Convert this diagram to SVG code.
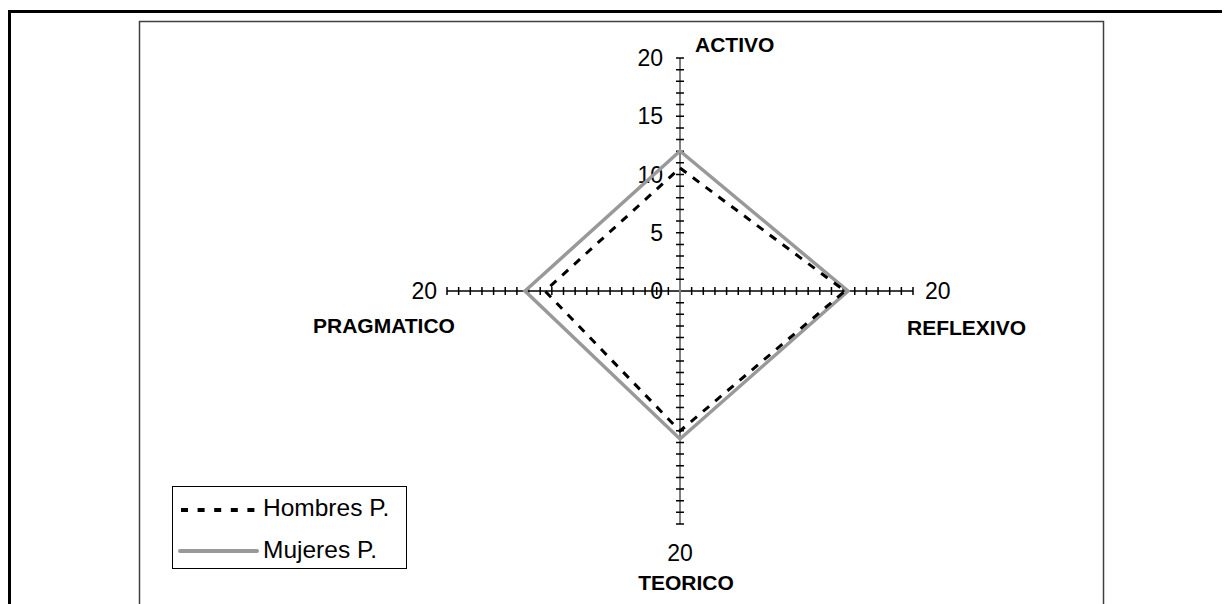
<svg xmlns="http://www.w3.org/2000/svg" width="1224" height="604" viewBox="0 0 1224 604">
<style>
.num{font-family:"Liberation Sans",Arial,sans-serif;font-size:23px;fill:#000}
.cat{font-family:"Liberation Sans",Arial,sans-serif;font-size:21px;font-weight:bold;fill:#000}
.leg{font-family:"Liberation Sans",Arial,sans-serif;font-size:24.5px;fill:#000}
.tick{stroke:#000;stroke-width:1.5}
</style>
<defs>
<path id="vt" d="M-4,0H4"/>
<path id="ht" d="M0,-4V4"/>
</defs>
<rect width="1224" height="604" fill="#fff"/>
<g id="frames" fill="none">
<path d="M9.5,604V11.5H1222" stroke="#000" stroke-width="3"/>
<path d="M139.5,604V21.5H1103.5V604" stroke="#404040" stroke-width="1.5"/>
</g>
<g id="axes">
<line x1="447" y1="291" x2="913" y2="291" stroke="#000" stroke-width="1.5"/>
<line x1="680" y1="58" x2="680" y2="524" stroke="#808080" stroke-width="2"/>
<g class="tick">
<path d="M676,58H684M676,69.65H684M676,81.3H684M676,92.95H684M676,104.6H684M676,116.25H684M676,127.9H684M676,139.55H684M676,151.2H684M676,162.85H684M676,174.5H684M676,186.15H684M676,197.8H684M676,209.45H684M676,221.1H684M676,232.75H684M676,244.4H684M676,256.05H684M676,267.7H684M676,279.35H684"/>
<path d="M676,302.65H684M676,314.3H684M676,325.95H684M676,337.6H684M676,349.25H684M676,360.9H684M676,372.55H684M676,384.2H684M676,395.85H684M676,407.5H684M676,419.15H684M676,430.8H684M676,442.45H684M676,454.1H684M676,465.75H684M676,477.4H684M676,489.05H684M676,500.7H684M676,512.35H684M676,524H684"/>
<path d="M447,287V295M458.65,287V295M470.3,287V295M481.95,287V295M493.6,287V295M505.25,287V295M516.9,287V295M528.55,287V295M540.2,287V295M551.85,287V295M563.5,287V295M575.15,287V295M586.8,287V295M598.45,287V295M610.1,287V295M621.75,287V295M633.4,287V295M645.05,287V295M656.7,287V295M668.35,287V295"/>
<path d="M691.65,287V295M703.3,287V295M714.95,287V295M726.6,287V295M738.25,287V295M749.9,287V295M761.55,287V295M773.2,287V295M784.85,287V295M796.5,287V295M808.15,287V295M819.8,287V295M831.45,287V295M843.1,287V295M854.75,287V295M866.4,287V295M878.05,287V295M889.7,287V295M901.35,287V295M913,287V295"/>
</g>
<g class="num" text-anchor="end">
<text x="663" y="66">20</text>
<text x="663" y="124">15</text>
<text x="663" y="182.5">10</text>
<text x="663" y="240.5">5</text>
<text x="663" y="299">0</text>
</g>
<text class="num" x="437" y="299" text-anchor="end">20</text>
<text class="num" x="925" y="299">20</text>
<text class="num" x="680" y="561" text-anchor="middle">20</text>
</g>
<g id="cat-activo"><text class="cat" x="695" y="52">ACTIVO</text></g>
<g id="cat-reflexivo"><text class="cat" x="907" y="335">REFLEXIVO</text></g>
<g id="cat-teorico"><text class="cat" x="686" y="590" text-anchor="middle">TEORICO</text></g>
<g id="cat-pragmatico"><text class="cat" x="313" y="333">PRAGMATICO</text></g>
<g id="connectors" fill="none">
<polygon id="mujeres" points="680,151 848,291 680,439 525,291" stroke="#999" stroke-width="3.5"/>
<polygon id="hombres" points="680,168 845,291 680,431 545,291" stroke="#000" stroke-width="3" stroke-dasharray="8 8"/>
</g>
<g id="legend">
<rect x="172.5" y="486.5" width="234" height="82" fill="#fff" stroke="#000" stroke-width="1"/>
<line x1="181" y1="510" x2="256" y2="510" stroke="#000" stroke-width="4" stroke-dasharray="7 9.6"/>
<text class="leg" x="263" y="516">Hombres P.</text>
<line x1="180" y1="551" x2="257" y2="551" stroke="#999" stroke-width="4" stroke-linecap="round"/>
<text class="leg" x="263" y="558">Mujeres P.</text>
</g>
</svg>
